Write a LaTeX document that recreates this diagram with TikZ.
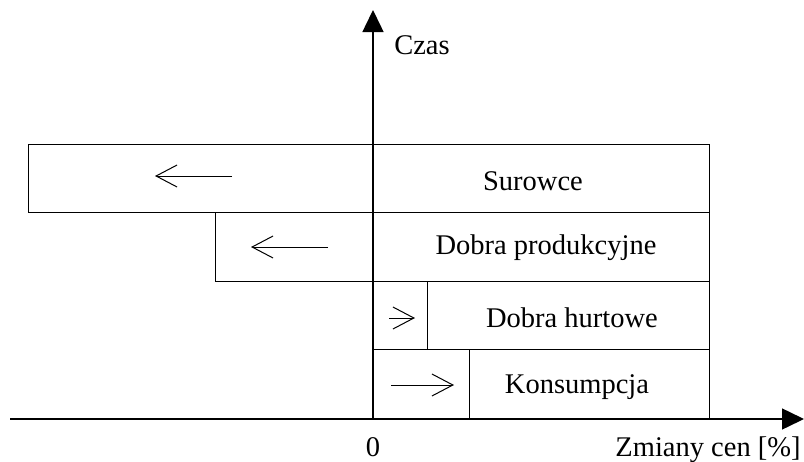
\documentclass[tikz,border=0pt]{standalone}
\usepackage{fontspec}
\setmainfont{Liberation Serif}
\usetikzlibrary{arrows.meta}
\begin{document}
\begin{tikzpicture}[x=1pt,y=-1pt,
  axis/.style={line width=1.5pt,-{Triangle[length=22pt,width=21pt]}},
  box/.style={draw,line width=1pt},
  trend/.style={line width=1pt,-{Straight Barb[length=21pt,width=22pt,line width=1pt]}},
  lbl/.style={font=\fontsize{28.5}{31}\selectfont,inner sep=0pt}]
\useasboundingbox (0,0) rectangle (804,461);
% boxes
\draw[box] (28,144) rectangle (709,212);
\draw[box] (215,212) rectangle (709,281);
\draw[box] (373,281) rectangle (709,349);
\draw[box] (373,349) rectangle (709,419);
\draw[box] (427,281) -- (427,349);
\draw[box] (469,349) -- (469,419);
% axes
\coordinate (o) at (373,419);
\coordinate (xs) at (10,419);
\coordinate (xe) at (804,419);
\coordinate (ye) at (373,10);
\draw[axis] (xs) -- (xe);
\draw[axis] (o) -- (ye);
% trend arrows
\coordinate (a1s) at (232,176); \coordinate (a1e) at (155,176);
\coordinate (a2s) at (328,247); \coordinate (a2e) at (251,247);
\coordinate (a3s) at (389,318); \coordinate (a3e) at (415,318);
\coordinate (a4s) at (391,385); \coordinate (a4e) at (454,385);
\draw[trend] (a1s) -- (a1e);
\draw[trend] (a2s) -- (a2e);
\draw[trend] (a3s) -- (a3e);
\draw[trend] (a4s) -- (a4e);
% labels
\node[lbl] (czas) at (422,45) {Czas};
\node[lbl] (sur) at (533,181) {Surowce};
\node[lbl] (dp) at (546,248) {Dobra produkcyjne};
\node[lbl] (dh) at (572,318) {Dobra hurtowe};
\node[lbl] (kon) at (577,387) {Konsumpcja};
\node[lbl,anchor=base] (zero) at (373,456) {0};
\node[lbl,anchor=base] (zm) at (708,456) {Zmiany cen [\%]};
\end{tikzpicture}
\end{document}
